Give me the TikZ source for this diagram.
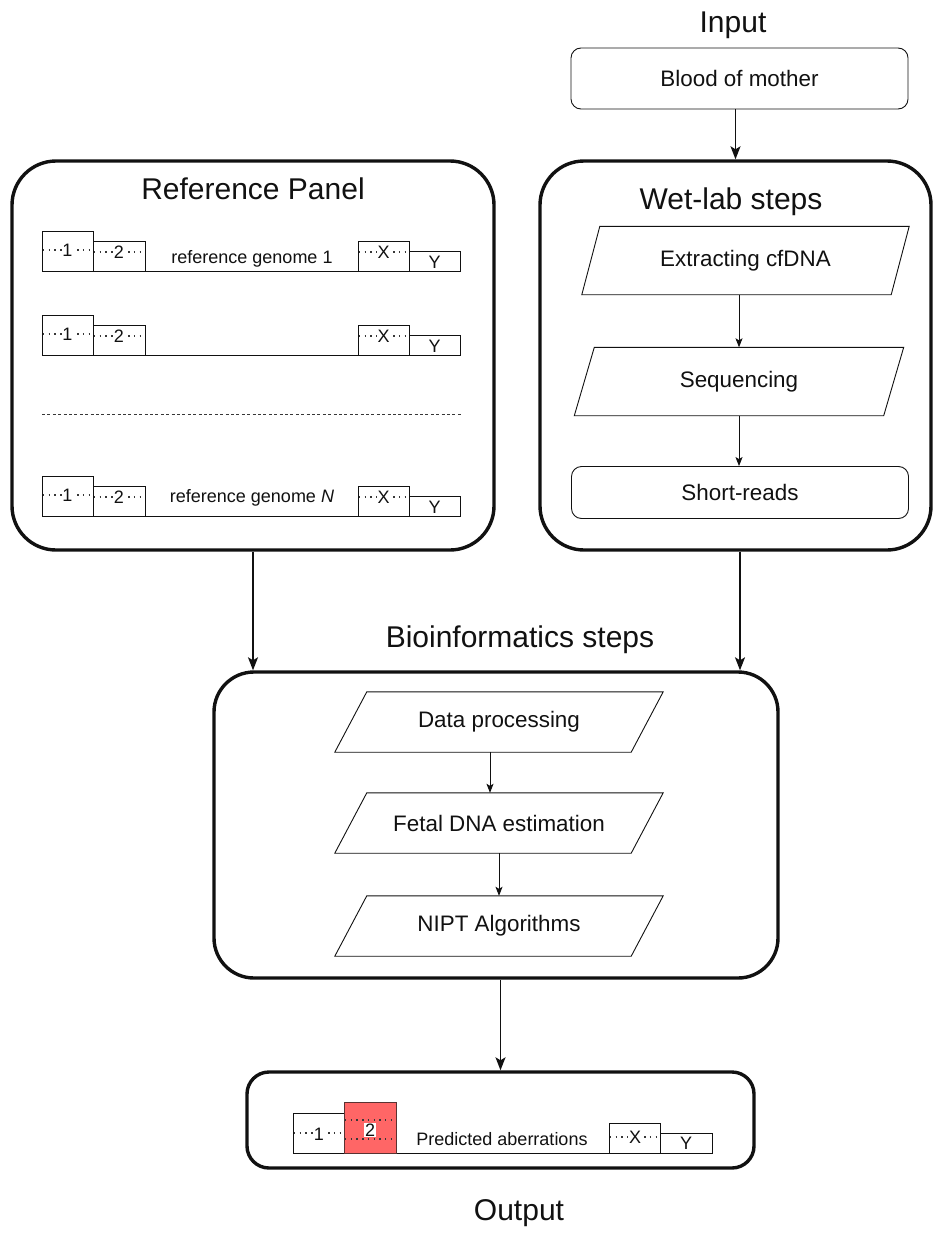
\documentclass[tikz,border=0pt]{standalone}
\usepackage{fontspec}
\setmainfont{Liberation Sans}
\usetikzlibrary{arrows.meta}
\definecolor{niptInk}{RGB}{17,17,17}
\definecolor{niptDots}{RGB}{55,55,55}
\definecolor{niptRed}{RGB}{255,102,102}
\definecolor{niptRedEdge}{RGB}{90,50,50}
% parallelogram round a named node: #1 node, #2 half of the slant
\newcommand{\slantframe}[2]{%
  \draw[stepline] ([xshift=-#2]#1.south west) -- ([xshift=-#2]#1.south east)
    -- ([xshift=#2]#1.north east) -- ([xshift=#2]#1.north west) -- cycle;}

\begin{document}
\begin{tikzpicture}[x=1pt,y=-1pt,
      heading/.style={font=\fontsize{30}{34}\selectfont, text=niptInk},
      panel/.style={draw=niptInk, line width=3.4pt, rounded corners=44pt,
        inner sep=0pt},
      flowbox/.style={draw=niptInk, line width=.9pt, rounded corners=10pt,
        inner sep=0pt, minimum width=337pt, text=niptInk,
        font=\fontsize{22.4}{26}\selectfont},
      stepline/.style={draw=niptInk, line width=.9pt},
      slanted/.style={inner sep=0pt, minimum width=309pt, minimum height=68pt,
        text=niptInk, font=\fontsize{22.4}{26}\selectfont},
      bigarrow/.style={draw=niptInk, line width=1.5pt,
        -{Stealth[length=13pt,width=10pt,inset=3pt]}},
      smallarrow/.style={draw=niptInk, line width=.9pt,
        -{Stealth[length=9pt,width=7pt,inset=2pt]}},
      chrom/.style={draw=niptInk, line width=1pt},
      chromdots/.style={draw=niptDots, line width=1.4pt,
        dash pattern=on 1.4pt off 4.3pt},
      chromlab/.style={fill=white, inner sep=.8pt, text=niptInk,
        font=\fontsize{18}{20}\selectfont},
      genome/.style={anchor=base, text=niptInk,
        font=\fontsize{18}{20}\selectfont},
      separator/.style={draw=niptDots, line width=1pt,
        dash pattern=on 3pt off 2.4pt}]
      \useasboundingbox (0,0) rectangle (933,1236);
      \fill[white] (0,0) rectangle (933,1236);

      % input and wet-lab part
      \node[heading] (inputtitle) at (733,25) {Input};
      \node[flowbox, minimum height=61pt] (blood) at (739.5,78.5) {Blood of mother};
      \node[panel, minimum width=391pt, minimum height=389pt] (wetlab)
        at (735.5,355.5) {};
      \node[heading] (wettitle) at (731,202) {Wet-lab steps};
      \node[slanted] (extract) at (745.5,260.5) {Extracting cfDNA};
      \slantframe{extract}{9}
      \node[slanted] (sequence) at (739,381.5) {Sequencing};
      \slantframe{sequence}{10}
      \node[flowbox, minimum height=52pt] (reads) at (740,492.5) {Short-reads};

      % reference panel
      \node[panel, minimum width=482pt, minimum height=389pt] (refpanel)
        at (253,355.5) {};
      \node[heading] (reftitle) at (253,189) {Reference Panel};
      \foreach \b/\ly/\name in {271/263/reference genome 1, 355/355/{},
          516/502/{reference genome \textit{N}}}{
        \draw[chrom] (42,\b) -- (460,\b);
        \draw[chrom] (42,\b) rectangle (93,\b-40);
        \draw[chrom] (93,\b) rectangle (145,\b-30);
        \draw[chrom] (358,\b) rectangle (409,\b-30);
        \draw[chrom] (409,\b) rectangle (460,\b-20);
        \draw[chromdots] (43,\b-21) -- (93,\b-21) (94,\b-19) -- (145,\b-19)
          (359,\b-19) -- (409,\b-19);
        \node[chromlab] (one\b) at (67.5,\b-21) {1};
        \node[chromlab] (two\b) at (119,\b-19) {2};
        \node[chromlab] (xchr\b) at (383.5,\b-19) {X};
        \node[chromlab, fill=none] (ychr\b) at (434.5,\b-9) {Y};
        \node[genome] (name\b) at (252,\ly) {\name};}
      \draw[separator] (42,414) -- (463,414);

      % bioinformatics part
      \node[heading] (biotitle) at (520,640) {Bioinformatics steps};
      \node[panel, minimum width=564pt, minimum height=306pt, rounded corners=40pt]
        (bio) at (496,825) {};
      \begin{scope}[every node/.style={slanted, minimum width=296pt,
          minimum height=60pt}]
        \node (dataproc) at (499,722) {Data processing};
        \node (fetal) at (499,823) {Fetal DNA estimation};
        \node (nipt) at (499,926) {NIPT Algorithms};
      \end{scope}
      \foreach \s in {dataproc,fetal,nipt}{\slantframe{\s}{16}}

      % output
      \node[panel, minimum width=507pt, minimum height=96pt, rounded corners=22pt]
        (output) at (500.5,1120) {};
      \node[heading] (outtitle) at (519,1213) {Output};
      \draw[chrom] (293,1153) -- (712,1153);
      \draw[chrom] (293,1153) rectangle (344,1113);
      \filldraw[fill=niptRed, draw=niptRedEdge, line width=1pt]
        (344,1153) rectangle (396,1102);
      \draw[chrom] (609,1153) rectangle (660,1123);
      \draw[chrom] (660,1153) rectangle (712,1133);
      \draw[chromdots] (294,1133) -- (344,1133) (345,1120) -- (396,1120)
        (345,1139) -- (396,1139) (610,1137) -- (660,1137);
      \node[chromlab] (outone) at (319,1134) {1};
      \node[chromlab] (outtwo) at (370,1130) {2};
      \node[chromlab] (outx) at (635,1137) {X};
      \node[chromlab, fill=none] (outy) at (686,1143) {Y};
      \node[genome] (outname) at (502,1145) {Predicted aberrations};

      % connectors
      \draw[bigarrow] (blood.south -| wetlab.north) -- (wetlab.north);
      \draw[smallarrow] (extract.south -| sequence.north) -- (sequence.north);
      \draw[smallarrow] (sequence.south) -- (sequence.south |- reads.north);
      \draw[bigarrow] (refpanel.south) -- (refpanel.south |- bio.north);
      \draw[bigarrow] (wetlab.south -| 740,0) -- (bio.north -| 740,0);
      \draw[smallarrow] (dataproc.south -| 490,0) -- (fetal.north -| 490,0);
      \draw[smallarrow] (fetal.south) -- (nipt.north);
      \draw[bigarrow] (bio.south -| output.north) -- (output.north);
    \end{tikzpicture}
\end{document}
